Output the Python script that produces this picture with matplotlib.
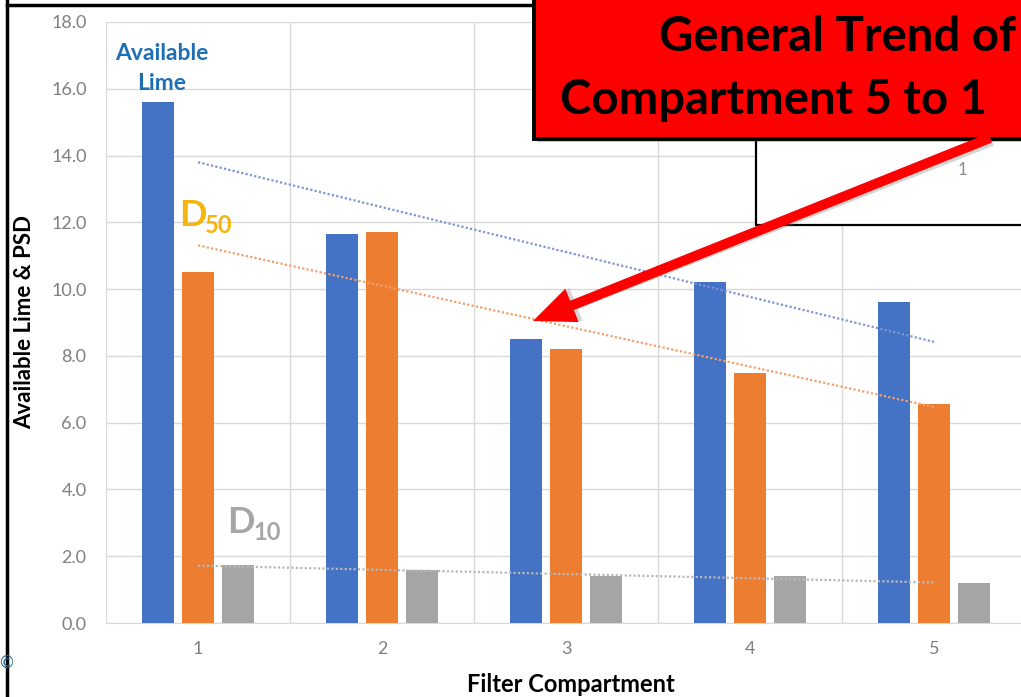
import matplotlib.pyplot as plt
import numpy as np
from matplotlib.patches import Rectangle, FancyArrow

plt.rcParams['font.family'] = ['Lato', 'DejaVu Sans']

# 过滤室编号与各系列数值
compartments = [1, 2, 3, 4, 5]
available_lime = [15.6, 11.65, 8.5, 10.2, 9.6]
d50 = [10.5, 11.7, 8.2, 7.5, 6.55]
d10 = [1.73, 1.6, 1.4, 1.4, 1.2]
y_ticks = [0, 2, 4, 6, 8, 10, 12, 14, 16, 18]

colors = ['#4472C4', '#ED7D31', '#A5A5A5']
series = [available_lime, d50, d10]

W, H = 1021, 697
fig = plt.figure(figsize=(W / 100, H / 100), dpi=100)
ax = fig.add_axes([106 / W, 74 / H, 920 / W, 601 / H])

x = np.array(compartments)
bw = 0.17
offsets = [-0.217, 0, 0.217]
for vals, c, off in zip(series, colors, offsets):
    ax.bar(x + off, vals, width=bw, color=c, zorder=3)

# 线性趋势线
trend_colors = ['#7f95d6', '#f4a06a', '#b8b8b8']
for vals, c in zip(series, trend_colors):
    k, b = np.polyfit(x, vals, 1)
    xs = np.array([x[0], x[-1]])
    ax.plot(xs, k * xs + b, linestyle=(0, (1, 1)), color=c, lw=1.6, zorder=4)

ax.set_xlim(0.5, 5.5)
ax.set_ylim(0, 18)
ax.set_yticks(y_ticks)
ax.set_yticklabels([f'{v:.1f}' for v in y_ticks])
ax.set_xticks(compartments)
ax.set_xticks([1.5, 2.5, 3.5, 4.5], minor=True)
ax.grid(axis='y', color='#d9d9d9', lw=1, zorder=0)
ax.grid(axis='x', which='minor', color='#d9d9d9', lw=1, zorder=0)
ax.axvline(0.5, color='#d9d9d9', lw=1, zorder=0)
ax.tick_params(axis='both', which='both', length=0, labelsize=13, colors='#7f7f7f')
ax.tick_params(axis='y', pad=14)
ax.tick_params(axis='x', pad=13)
for s in ax.spines.values():
    s.set_visible(False)
ax.spines['bottom'].set_visible(True)
ax.spines['bottom'].set_color('#d9d9d9')

ax.text(0.805, 17.05, 'Available', color='#1f6fb5', fontsize=16.5,
        fontweight='bold', ha='center', va='center')
ax.text(0.805, 16.15, 'Lime', color='#1f6fb5', fontsize=16.5,
        fontweight='bold', ha='center', va='center')
ax.text(0.9, 12.2, 'D', color='#f5b50c', fontsize=26, fontweight='bold',
        ha='left', va='center')
ax.text(1.04, 11.9, '50', color='#f5b50c', fontsize=17, fontweight='bold',
        ha='left', va='center')
ax.text(1.16, 3.0, 'D', color='#a6a6a6', fontsize=26, fontweight='bold',
        ha='left', va='center')
ax.text(1.3, 2.7, '10', color='#a6a6a6', fontsize=17, fontweight='bold',
        ha='left', va='center')

fig.text(25 / W, 1 - 322 / H, 'Available Lime & PSD', rotation=90,
         fontsize=16, fontweight='bold', ha='center', va='center')
fig.text(571 / W, 1 - 685 / H, 'Filter Compartment', fontsize=17,
         fontweight='bold', ha='center', va='center')

# 覆盖层：边框、说明框和箭头
ov = fig.add_axes([0, 0, 1, 1], zorder=10)
ov.set_xlim(0, W)
ov.set_ylim(H, 0)
ov.axis('off')
ov.patch.set_visible(False)

ov.plot([7, 7], [0, H], color='black', lw=2.5)
ov.plot([7, 534], [5, 5], color='black', lw=2.5)
ov.text(6, 663, '©', color='#1f5f8b', fontsize=12, ha='center', va='center')

ov.add_patch(Rectangle((756, 120), 300, 105, facecolor='white',
                       edgecolor='black', lw=1.6, zorder=1))
ov.text(838, 134, '0', color='#8c8c8c', fontsize=12, ha='center', va='center', zorder=1)
ov.text(962, 170, '1', color='#8c8c8c', fontsize=12, ha='center', va='center', zorder=1)

ov.add_patch(Rectangle((537, 142), 500, -160, facecolor='#555555', alpha=0.35,
                       edgecolor='none', zorder=2))
ov.add_patch(Rectangle((534, 139), 500, -160, facecolor='#ff0000',
                       edgecolor='black', lw=2.8, zorder=3))
ov.text(1016, 37, 'General Trend of', fontsize=34, fontweight='bold',
        ha='right', va='center', zorder=4)
ov.text(560, 100, 'Compartment 5 to 1', fontsize=34, fontweight='bold',
        ha='left', va='center', zorder=4)

ov.add_patch(FancyArrow(992, 141, -455, 179, width=10, head_width=36,
                        head_length=42, length_includes_head=True,
                        facecolor='#888888', edgecolor='none', alpha=0.35,
                        zorder=5))
ov.add_patch(FancyArrow(990, 138, -457, 183, width=10, head_width=36,
                        head_length=42, length_includes_head=True,
                        facecolor='#ff0000', edgecolor='none', zorder=6))

fig.savefig('out.png', dpi=100)
